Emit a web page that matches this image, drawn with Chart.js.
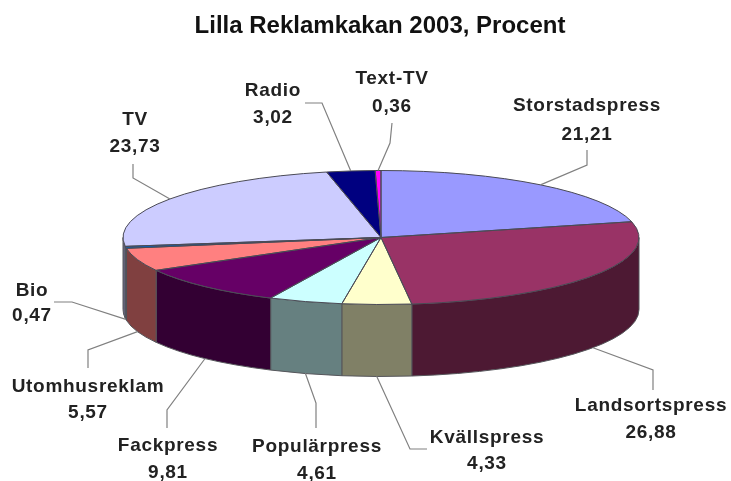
<!DOCTYPE html>
<html>
<head>
<meta charset="utf-8">
<title>Lilla Reklamkakan 2003</title>
<script src="https://cdn.jsdelivr.net/npm/chart.js@4"></script>
<style>
  html, body { margin: 0; background: #fff; }
  #my-chart { display: block; filter: blur(0.6px); }
</style>
</head>
<body>
<canvas id="my-chart" width="731" height="481"></canvas>
<script>
'use strict';

// ******* DATA ********
let categories = ['Storstadspress', 'Landsortspress', 'Kvällspress', 'Populärpress', 'Fackpress',
  'Utomhusreklam', 'Bio', 'TV', 'Radio', 'Text-TV'];
let shares = [21.21, 26.88, 4.33, 4.61, 9.81, 5.57, 0.47, 23.73, 3.02, 0.36];
let topColors = ['#9999ff', '#993366', '#ffffcc', '#ccffff', '#660066',
  '#ff8080', '#0066cc', '#ccccff', '#000080', '#ff00ff'];
let sideColors = ['#4d4d80', '#4d1933', '#808066', '#668080', '#330033',
  '#804040', '#003366', '#666680', '#000040', '#800080'];

// ******* LAYOUT ********
let pieX = 381;
let pieY = 237.5;
let pieRx = 258;
let pieRy = 67;
let pieDepth = 72;

// label centre x, y of name line, y of value line
let labelSpots = [[587, 106, 135], [651, 406, 433], [487, 438, 464], [317, 447, 474], [168, 446, 473],
  [88, 387, 413], [32, 291, 316], [135, 120, 147], [273, 91, 118], [392, 79, 107]];
// leader line, after the point on the rim of the slice
let leaderBends = [
  [[587, 165], [587, 150]],
  [[653, 370], [653, 390]],
  [[410, 449], [427, 449]],
  [[316, 403], [316, 428]],
  [[167, 410], [167, 428]],
  [[88, 350], [88, 368]],
  [[72, 302], [54, 302]],
  [[133, 178], [133, 164]],
  [[322, 103], [305, 103]],
  [[390, 143], [392, 123]]
];

// ****** HELPERS ******
function wallPath(ctx, from, to){
  ctx.beginPath();
  ctx.ellipse(pieX, pieY, pieRx, pieRy, 0, from, to);
  ctx.ellipse(pieX, pieY + pieDepth, pieRx, pieRy, 0, to, from, true);
  ctx.closePath();
}

function midPoint(arc){
  let mid = (arc.startAngle + arc.endAngle) / 2;
  let sinMid = Math.sin(mid);
  return {
    x: pieX + pieRx * Math.cos(mid),
    y: pieY + pieRy * sinMid + (sinMid > 0 ? pieDepth : 0)
  };
}

// ****** PLUGIN: tilted pie with walls, leaders and labels ******
let tiltedPie = {
  id: 'tiltedPie',
  beforeDatasetsDraw(chart){
    let ctx = chart.ctx;
    let arcs = chart.getDatasetMeta(0).data;
    ctx.save();
    ctx.lineWidth = 1;
    ctx.strokeStyle = '#55555a';
    arcs.forEach((arc, i) => {
      // only the part facing the viewer has a wall
      let from = Math.max(arc.startAngle, 0);
      let to = Math.min(arc.endAngle, Math.PI);
      if (to <= from) {
        return;
      }
      wallPath(ctx, from, to);
      ctx.fillStyle = sideColors[i];
      ctx.fill();
      ctx.stroke();
    });
    ctx.restore();

    // the library draws the slices, squeezed onto the ellipse
    let first = arcs[0];
    ctx.save();
    ctx.translate(pieX, pieY);
    ctx.scale(pieRx / first.outerRadius, pieRy / first.outerRadius);
    ctx.translate(-first.x, -first.y);
  },
  afterDatasetsDraw(chart){
    let ctx = chart.ctx;
    let arcs = chart.getDatasetMeta(0).data;
    ctx.restore();

    ctx.save();
    ctx.lineWidth = 1;
    ctx.strokeStyle = '#4a4a55';
    arcs.forEach((arc) => {
      ctx.beginPath();
      ctx.moveTo(pieX, pieY);
      ctx.ellipse(pieX, pieY, pieRx, pieRy, 0, arc.startAngle, arc.endAngle);
      ctx.closePath();
      ctx.stroke();
    });

    ctx.strokeStyle = '#808080';
    ctx.lineWidth = 1.2;
    arcs.forEach((arc, i) => {
      let start = midPoint(arc);
      ctx.beginPath();
      ctx.moveTo(start.x, start.y);
      leaderBends[i].forEach((p) => ctx.lineTo(p[0], p[1]));
      ctx.stroke();
    });

    ctx.fillStyle = '#222222';
    ctx.font = 'bold 19px "Liberation Sans", Arial, sans-serif';
    ctx.letterSpacing = '0.7px';
    ctx.textAlign = 'center';
    ctx.textBaseline = 'middle';
    categories.forEach((name, i) => {
      let spot = labelSpots[i];
      ctx.fillText(name, spot[0], spot[1]);
      ctx.fillText(shares[i].toFixed(2).replace('.', ','), spot[0], spot[2]);
    });
    ctx.restore();
  }
};

// ******* CHART ********
let ctx = document.getElementById('my-chart');

let chartObj = {
  type: 'pie',
  data: {
    labels: categories,
    datasets: [{
      data: shares,
      backgroundColor: topColors,
      borderWidth: 0
    }]
  },
  options: {
    responsive: false,
    animation: false,
    layout: { padding: { left: 29 } },
    plugins: {
      legend: { display: false },
      tooltip: { enabled: false },
      title: {
        display: true,
        text: 'Lilla Reklamkakan 2003, Procent',
        color: '#111111',
        font: { family: '"Liberation Sans", Arial, sans-serif', size: 24, weight: 'bold' },
        padding: { top: 12, bottom: 10 }
      }
    }
  },
  plugins: [tiltedPie]
};

new Chart(ctx, chartObj);
</script>
</body>
</html>
